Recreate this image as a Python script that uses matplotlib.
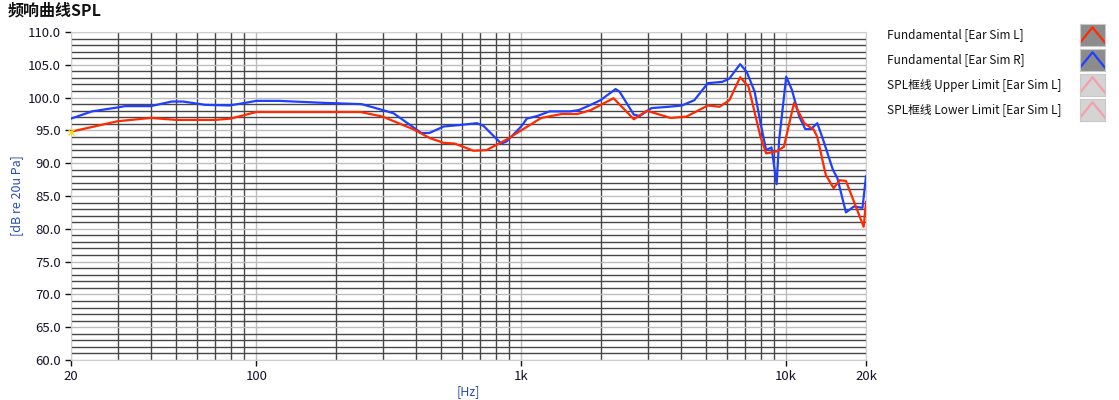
import matplotlib
matplotlib.use("Agg")
import matplotlib.pyplot as plt
from matplotlib.ticker import FixedLocator, NullFormatter

plt.rcParams['font.family'] = ['Noto Sans CJK SC', 'DejaVu Sans']

freq_L = [20, 30, 40, 50, 70, 80, 100, 159, 248, 300, 390, 454, 510, 560, 660, 740,
          880, 990, 1190, 1420, 1630, 1830, 2230, 2660, 2980, 3660, 4200, 5060, 5600,
          6100, 6700, 7200, 8000, 8400, 9200, 9800, 10700, 11700, 12700, 13100, 14100,
          15100, 15900, 16800, 19600, 20000]
spl_L = [94.8, 96.4, 96.9, 96.6, 96.6, 96.8, 97.8, 97.8, 97.8, 97.1, 95.2, 93.8, 93.1,
         93.0, 91.9, 92.0, 93.6, 94.9, 96.9, 97.5, 97.5, 98.1, 99.9, 96.7, 98.0, 96.9,
         97.1, 98.8, 98.6, 99.6, 103.1, 101.7, 94.0, 91.5, 91.8, 92.5, 99.2, 96.1, 95.1,
         94.0, 88.2, 86.2, 87.4, 87.3, 80.3, 84.1]

freq_R = [20, 24, 30, 32, 40, 48, 53, 64, 79, 88, 100, 122, 180, 250, 300, 330, 420, 450,
          510, 580, 680, 720, 840, 880, 1000, 1050, 1150, 1280, 1530, 1650, 1830, 1990,
          2270, 2350, 2660, 2800, 3100, 3600, 4040, 4500, 5060, 5740, 6100, 6700, 7100,
          7600, 8000, 8400, 8800, 9200, 9400, 10000, 10500, 11200, 11800, 12400, 13100,
          13800, 15000, 15600, 16800, 18000, 19400, 20000]
spl_R = [96.8, 97.9, 98.5, 98.7, 98.7, 99.4, 99.4, 98.9, 98.8, 99.1, 99.5, 99.5, 99.2,
         99.0, 98.1, 97.6, 94.6, 94.6, 95.6, 95.8, 96.1, 95.7, 93.0, 93.3, 95.6, 96.8,
         97.2, 97.9, 97.9, 98.1, 98.9, 99.6, 101.3, 100.9, 97.4, 97.2, 98.4, 98.6, 98.8,
         99.6, 102.2, 102.4, 102.9, 105.1, 103.9, 100.9, 96.1, 92.0, 92.4, 86.8, 93.5,
         103.2, 101.2, 97.1, 95.2, 95.2, 96.1, 93.5, 89.0, 87.7, 82.5, 83.4, 83.2, 88.0]

legend_labels = ["Fundamental [Ear Sim L]", "Fundamental [Ear Sim R]",
                 "SPL框线 Upper Limit [Ear Sim L]", "SPL框线 Lower Limit [Ear Sim L]"]
legend_colors = ["#ff2a00", "#2040ff", "#f4a0a8", "#f4a0a8"]
legend_boxes = ["#8c8c8c", "#8c8c8c", "#d4d4d4", "#d4d4d4"]

x_major = [20, 100, 1000, 10000, 20000]
x_labels = ["20", "100", "1k", "10k", "20k"]
x_minor = [30, 40, 50, 60, 70, 80, 90, 200, 300, 400, 500, 600, 700, 800, 900,
           2000, 3000, 4000, 5000, 6000, 7000, 8000, 9000]
y_major = [60, 65, 70, 75, 80, 85, 90, 95, 100, 105, 110]
y_minor = [v for v in range(60, 111) if v % 5 != 0]

fig = plt.figure(figsize=(11.19, 4.0), dpi=100)
ax = fig.add_axes([71 / 1119, 0.10, (866 - 71) / 1119, 0.82])

ax.set_xscale("log")
ax.set_xlim(20, 20000)
ax.set_ylim(60, 110)

ax.xaxis.set_major_locator(FixedLocator(x_major))
ax.set_xticklabels(x_labels)
ax.xaxis.set_minor_locator(FixedLocator(x_minor))
ax.xaxis.set_minor_formatter(NullFormatter())
ax.yaxis.set_major_locator(FixedLocator(y_major))
ax.set_yticklabels(["%.1f" % v for v in y_major])
ax.yaxis.set_minor_locator(FixedLocator(y_minor))

ax.grid(which="minor", color="#474747", lw=1.0)
ax.grid(which="major", color="#bdbdbd", lw=1.0)
ax.set_axisbelow(True)

ax.tick_params(which="minor", length=0)
ax.tick_params(which="major", length=4, width=1, color="#111111",
               labelsize=9.5, labelcolor="#141428", direction="out")
for s in ax.spines.values():
    s.set_color("#cfcfcf")

ax.plot(freq_R, spl_R, color="#2040ff", lw=1.6, zorder=3)
ax.plot(freq_L, spl_L, color="#ff2a00", lw=1.6, zorder=4)
ax.plot([freq_L[0]], [spl_L[0]], marker="x", color="#f0e000", ms=5, mew=1, zorder=5,
        clip_on=False)

ax.set_ylabel("[dB re 20u Pa]", color="#2a4fb0", fontsize=9, labelpad=3)
ax.set_xlabel("[Hz]", color="#2a4fb0", fontsize=9)
ax.xaxis.set_label_coords(0.5, -0.075)

fig.text(8 / 1119, 1 - 10 / 400, "频响曲线SPL", fontsize=11.5, fontweight="bold",
         va="center", ha="left", color="#111111")

for i, lab in enumerate(legend_labels):
    yc = 35 + 25 * i
    fig.text(887 / 1119, 1 - yc / 400, lab, fontsize=8.5, va="center", ha="left",
             color="#111111")
    iax = fig.add_axes([1080 / 1119, 1 - (yc + 11) / 400, 25 / 1119, 22 / 400])
    iax.set_facecolor(legend_boxes[i])
    iax.plot([0, 0.5, 1], [0.15, 0.85, 0.15], color=legend_colors[i], lw=1.6)
    iax.set_xlim(0, 1)
    iax.set_ylim(0, 1)
    iax.set_xticks([])
    iax.set_yticks([])
    for s in iax.spines.values():
        s.set_color("#c8c8c8")

fig.savefig("out.png", dpi=100)
